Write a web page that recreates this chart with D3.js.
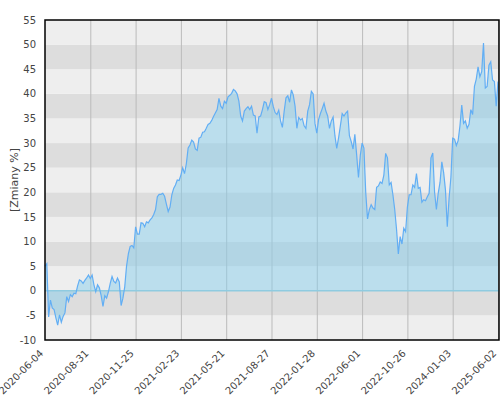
<!DOCTYPE html>
<html>
<head>
<meta charset="utf-8">
<script src="https://cdn.jsdelivr.net/npm/d3@7"></script>
<style>
  body { margin: 0; background: #fff; }
  text { font-family: "DejaVu Sans", sans-serif; }
</style>
</head>
<body>
<div id="chart"></div>
<script>
// tick labels (one every 25 points)
const tickLabels = ["2020-06-04", "2020-08-31", "2020-11-25", "2021-02-23", "2021-05-21",
  "2021-08-27", "2022-01-28", "2022-06-01", "2022-10-26", "2024-01-03", "2025-06-02"];
const tickStep = 25;

// zmiany %
const values = [
  // 2020-06-04 .. 2020-08-31
  5.0, 5.5, -5.3, -1.9, -3.5, -3.8, -5.5, -7.0, -4.9, -6.4, -5.2, -4.5, -1.2, -2.2, -0.8, -1.2, -0.5, -0.6, 1.0, 2.2, 2.0, 1.5, 2.1, 2.6, 3.2,
  // .. 2020-11-25
  2.5, 3.2, 1.2, -0.2, 1.2, 0.6, -1.0, -3.2, -1.0, -1.5, -0.2, 1.5, 2.9, 1.9, 1.6, 2.6, 1.8, -3.0, -1.5, 0.8, 5.0, 7.5, 9.0, 9.2, 8.7,
  // .. 2021-02-23
  13.0, 11.5, 11.5, 13.8, 13.7, 13.0, 14.0, 13.8, 14.4, 14.8, 15.5, 16.5, 19.1, 19.6, 19.6, 19.8, 19.2, 17.6, 16.1, 17.0, 19.5, 20.8, 21.5, 22.5, 22.4,
  // .. 2021-05-21
  23.5, 25.0, 23.8, 25.8, 29.0, 29.6, 30.6, 30.2, 28.8, 28.5, 31.0, 31.2, 32.2, 32.3, 33.0, 33.8, 34.0, 34.6, 35.4, 36.1, 36.8, 39.1, 37.5, 37.0, 38.5,
  // .. 2021-08-27
  38.1, 39.4, 39.7, 40.1, 40.9, 40.6, 40.0, 38.5, 35.5, 34.5, 36.5, 37.0, 37.4, 36.8, 37.5, 35.7, 35.5, 32.0, 35.3, 35.5, 36.8, 38.4, 38.2, 36.8, 37.8,
  // .. 2022-01-28
  39.1, 37.4, 36.2, 35.8, 36.7, 34.5, 33.2, 36.5, 39.2, 39.6, 38.3, 40.8, 39.8, 37.5, 33.0, 35.2, 34.7, 35.0, 33.5, 33.0, 36.5, 37.8, 40.5, 40.0, 34.0,
  // .. 2022-06-01
  32.0, 34.8, 36.0, 37.0, 38.1, 36.5, 35.5, 33.0, 34.5, 35.3, 31.5, 28.9, 31.0, 33.5, 36.0, 35.5, 36.1, 36.5, 31.5, 30.3, 28.8, 31.8, 27.6, 23.0, 27.5,
  // .. 2022-10-26
  30.0, 29.0, 20.0, 14.6, 16.5, 17.5, 16.8, 16.5, 21.0, 21.3, 22.1, 21.8, 23.5, 27.9, 27.0, 21.5, 22.0, 19.5, 16.5, 12.5, 7.5, 11.0, 9.5, 12.7, 12.0,
  // .. 2024-01-03
  17.0, 19.5, 19.5, 21.5, 21.0, 23.8, 20.8, 21.0, 18.0, 18.5, 18.3, 19.1, 19.8, 27.0, 28.0, 20.0, 16.5, 19.8, 22.0, 26.2, 24.0, 20.5, 13.0, 18.8, 23.0,
  // .. 2025-06-02
  31.0, 30.8, 29.5, 30.5, 33.5, 37.7, 34.0, 34.5, 33.0, 33.8, 36.8, 35.8, 41.5, 43.0, 45.5, 43.5, 44.5, 50.3, 41.2, 41.5, 45.8, 46.5, 42.8, 42.5, 37.5, 42.5
];

const yTicks = d3.range(-10, 56, 5);

const W = 500, H = 400;
const plotL = 45, plotR = 498, plotT = 20, plotB = 340;

const svg = d3.select("#chart")
  .append("svg")
  .attr("width", W)
  .attr("height", H);

const x = d3.scaleLinear()
  .domain([0, values.length - 1])
  .range([plotL, plotR]);

const y = d3.scaleLinear()
  .domain([-10, 55])
  .range([plotB, plotT]);

// alternating bands every 5%
svg.append("g")
  .selectAll("rect")
  .data(d3.range(-10, 55, 5))
  .join("rect")
    .attr("x", plotL)
    .attr("width", 499 - plotL)
    .attr("y", d => y(d + 5))
    .attr("height", d => y(d) - y(d + 5))
    .attr("fill", d => ((d + 5) % 10 === 0) ? "#dddddd" : "#eeeeee");

// vertical grid
const tickIdx = tickLabels.map((t, i) => i * tickStep);
svg.append("g")
  .selectAll("line")
  .data(tickIdx.slice(1))
  .join("line")
    .attr("x1", d => x(d) + 0.5)
    .attr("x2", d => x(d) + 0.5)
    .attr("y1", plotT)
    .attr("y2", plotB)
    .attr("stroke", "#bbbbbb")
    .attr("stroke-width", 1);

// area between zero and the series
const area = d3.area()
  .x((d, i) => x(i))
  .y0(y(0))
  .y1(d => y(d));

svg.append("path")
  .datum(values)
  .attr("d", area)
  .attr("fill", "rgb(135,206,235)")
  .attr("fill-opacity", 0.5);

// zero line
svg.append("line")
  .attr("x1", plotL)
  .attr("x2", 499)
  .attr("y1", y(0))
  .attr("y2", y(0))
  .attr("stroke", "#8fcbe0")
  .attr("stroke-width", 1.5);

const line = d3.line()
  .x((d, i) => x(i))
  .y(d => y(d));

svg.append("path")
  .datum(values)
  .attr("d", line)
  .attr("fill", "none")
  .attr("stroke", "#62aef4")
  .attr("stroke-width", 1.2);

// frame
svg.append("rect")
  .attr("x", plotL)
  .attr("y", plotT)
  .attr("width", 499 - plotL)
  .attr("height", plotB - plotT)
  .attr("fill", "none")
  .attr("stroke", "#000")
  .attr("stroke-width", 1.5);

// y labels
svg.append("g")
  .selectAll("text")
  .data(yTicks)
  .join("text")
    .attr("x", 36)
    .attr("y", d => y(d))
    .attr("dy", "0.36em")
    .attr("text-anchor", "end")
    .attr("font-size", 10)
    .attr("fill", "#444")
    .text(d => d);

// y title
svg.append("text")
  .attr("transform", `translate(18, ${(plotT + plotB) / 2}) rotate(-90)`)
  .attr("text-anchor", "middle")
  .attr("font-size", 11)
  .attr("fill", "#444")
  .text("[Zmiany %]");

// x labels
svg.append("g")
  .selectAll("text")
  .data(tickIdx)
  .join("text")
    .attr("transform", d => `translate(${x(d) - 1}, 354) rotate(-45)`)
    .attr("text-anchor", "end")
    .attr("font-size", 10)
    .attr("fill", "#444")
    .text((d, i) => tickLabels[i]);
</script>
</body>
</html>
